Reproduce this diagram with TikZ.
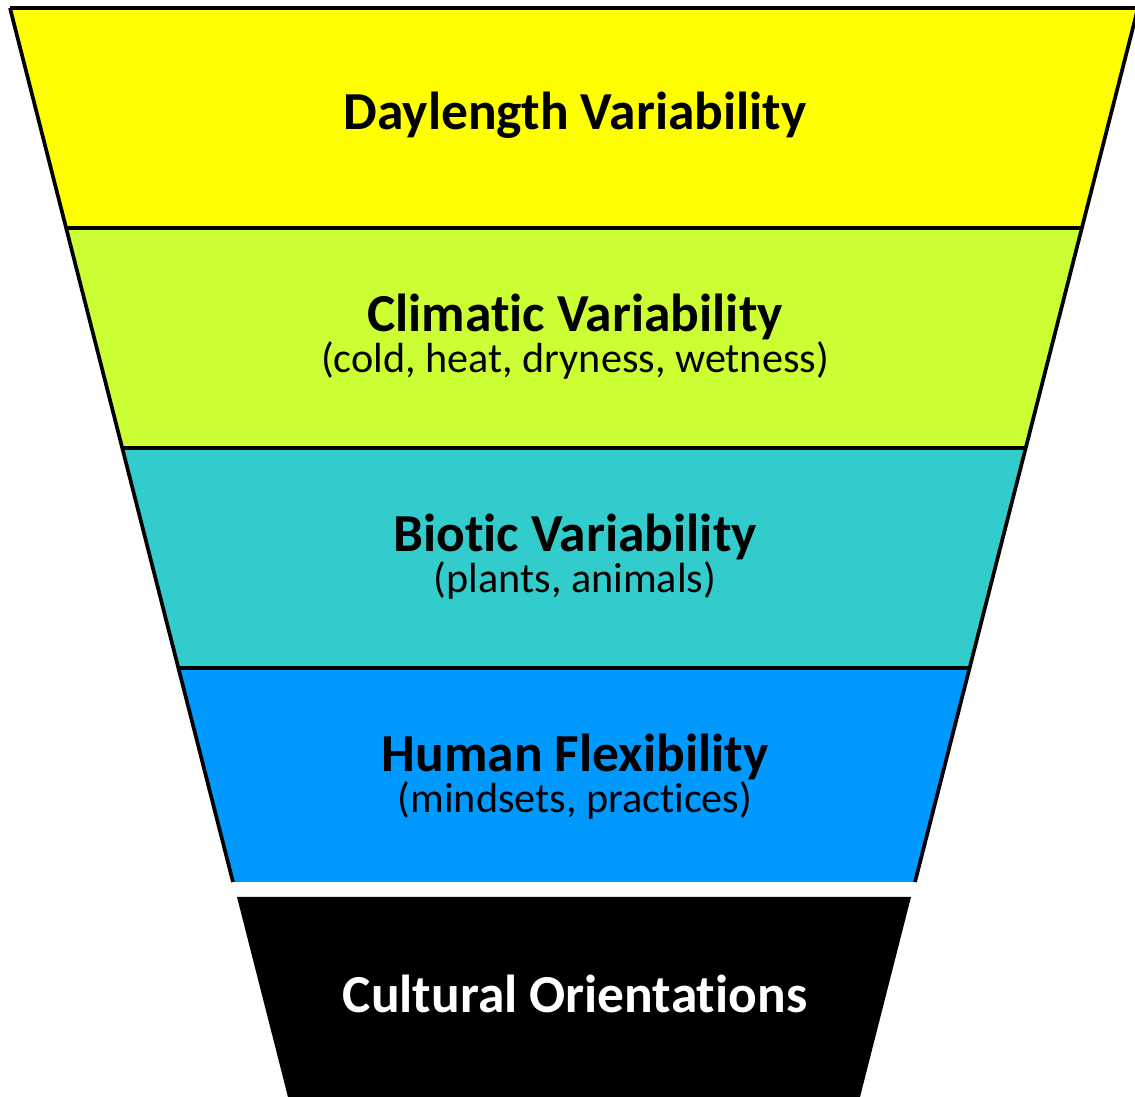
\documentclass[tikz,border=0pt]{standalone}
\usepackage{fontspec}
\setmainfont[Ligatures=NoCommon]{Carlito}
\definecolor{DayYellow}{RGB}{255,255,0}
\definecolor{ClimLime}{RGB}{204,255,51}
\definecolor{BioTeal}{RGB}{51,204,204}
\definecolor{HumBlue}{RGB}{0,153,255}
\usetikzlibrary{positioning}

\begin{document}
\begin{tikzpicture}[x=0.01cm, y=-0.01cm,
	borde/.style={line width=1.05pt, line join=miter},
	titulo/.style={anchor=base, font=\bfseries\fontsize{15.2}{18}\selectfont},
	detalle/.style={anchor=base, font=\fontsize{12}{14}\selectfont}]
	\useasboundingbox (0,0) rectangle (1135,1097);
	% funnel bands: top y / bottom y / left top / left bottom / colour
	\foreach \ya/\yb/\la/\lb/\c [count=\i] in {
		8/228/10/66/DayYellow,
		228/448/66/122/ClimLime,
		448/668/122/178/BioTeal,
		668/882/178/233/HumBlue}{
		\fill[\c] (\la,\ya) -- (1148-\la,\ya) -- (1148-\lb,\yb) -- (\lb,\yb) -- cycle;
		\draw[borde] (\la,\ya) -- (1148-\la,\ya);
	}
	\draw[borde] (10,8) -- (233,882);
	\draw[borde] (1138,8) -- (915,882);
	% stem of the funnel
	\fill[black] (237,897) -- (911,897) -- (860,1097) -- (288,1097) -- cycle;
	\node[titulo] (t1) at (575,130) {Daylength Variability};
	\node[titulo] (t2) at (575,332) {Climatic Variability};
	\node[detalle, below=4mm of t2.base, anchor=base] (s2) {(cold, heat, dryness, wetness)};
	\node[titulo] (t3) at (575,552) {Biotic Variability};
	\node[detalle, below=4mm of t3.base, anchor=base] (s3) {(plants, animals)};
	\node[titulo] (t4) at (575,772) {Human Flexibility};
	\node[detalle, below=4mm of t4.base, anchor=base] (s4) {(mindsets, practices)};
	\node[titulo, white] (t5) at (575,1013) {Cultural Orientations};
\end{tikzpicture}
\end{document}
